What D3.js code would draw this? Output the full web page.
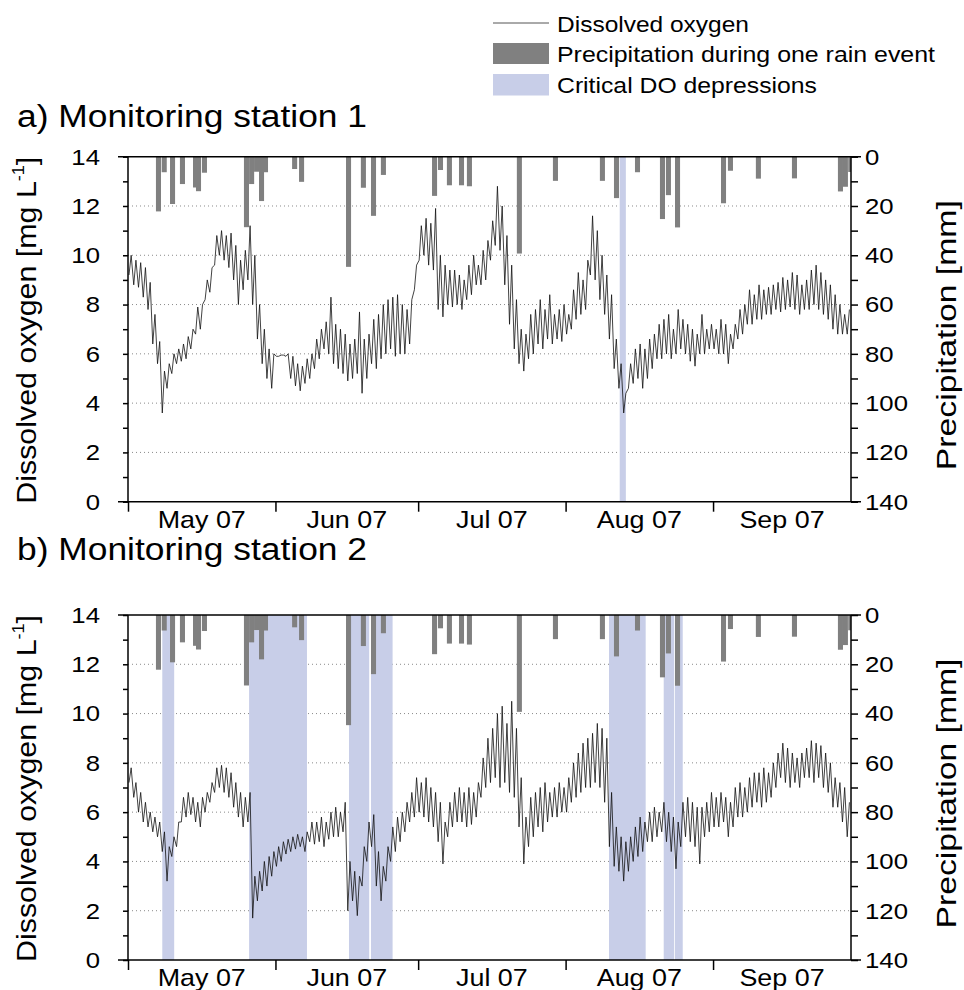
<!DOCTYPE html>
<html>
<head>
<meta charset="utf-8">
<script src="https://cdn.jsdelivr.net/npm/d3@7"></script>
<style>
  body { margin: 0; background: #fff; }
  svg { display: block; font-family: "Liberation Sans", Arial, sans-serif; }
</style>
</head>
<body>
<svg width="964" height="990"></svg>
<script>
// ---- data (day 0 = 1 May 2007, one high/low pair per day) ----
const startDate = "2007-05-01";
const endDate = "2007-09-30";

const doHigh1 = [
  10.0, 9.8, 9.7, 9.5, 8.9, 7.6, 6.5, 5.3, 5.6, 6.0,
  6.2, 6.4, 6.7, 7.0, 7.9, 8.0, 9.0, 9.5, 10.8, 11.0,
  10.8, 10.9, 10.4, 9.8, 10.2, 11.2, 10.0, 8.0, 7.0, 6.2,
  6.0, 5.9, 5.95, 6.0, 5.9, 5.6, 5.5, 5.8, 6.0, 6.6,
  7.0, 7.3, 8.3, 7.2, 7.0, 6.8, 6.4, 6.6, 7.7, 6.6,
  6.8, 7.4, 7.6, 8.0, 8.2, 8.3, 8.4, 8.0, 7.8, 8.2,
  9.6, 11.2, 11.5, 11.3, 11.9, 10.0, 9.6, 9.4, 9.4, 9.2,
  9.0, 9.6, 10.0, 9.6, 10.2, 10.6, 11.4, 12.8, 12.0, 10.8,
  9.6, 8.2, 7.0, 6.8, 7.6, 7.8, 8.2, 7.8, 8.4, 7.6,
  7.8, 8.0, 7.6, 8.6, 9.3, 9.0, 9.8, 11.6, 11.0, 10.0,
  9.2, 8.4, 6.6, 5.6, 4.4, 5.6, 6.2, 6.4, 6.2, 6.6,
  6.8, 7.2, 7.4, 7.6, 7.0, 7.8, 7.4, 7.2, 7.0, 6.8,
  7.6, 7.0, 7.2, 7.0, 7.4, 7.2, 6.8, 7.2, 7.8, 8.0,
  8.6, 8.4, 8.8, 8.6, 8.7, 8.8, 8.9, 9.1, 9.0, 9.3,
  9.2, 8.8, 9.0, 9.4, 9.6, 9.3, 9.0, 8.8, 8.4, 8.0,
  7.6, 7.8
];
const doLow1 = [
  9.2, 8.8, 8.7, 8.3, 7.8, 6.4, 5.6, 3.6, 4.6, 5.2,
  5.6, 5.7, 5.8, 6.2, 6.8, 7.0, 8.2, 8.5, 9.6, 10.0,
  9.8, 9.5, 9.0, 8.0, 8.6, 9.0, 8.0, 6.6, 5.6, 5.0,
  4.6, 5.9, 5.95, 5.9, 5.0, 4.7, 4.5, 4.8, 5.0, 5.4,
  5.8, 6.2, 6.0, 5.6, 5.4, 5.2, 4.9, 5.0, 5.2, 4.4,
  5.0, 5.6, 5.4, 5.8, 6.0, 6.2, 5.9, 6.0, 6.0, 6.4,
  8.6, 9.8, 10.0, 9.6, 9.4, 7.8, 7.5, 8.0, 7.9, 8.0,
  7.8, 8.2, 8.4, 8.8, 8.8, 9.0, 9.8, 10.4, 10.2, 8.8,
  7.2, 6.2, 5.6, 5.3, 5.8, 6.0, 6.4, 6.2, 6.6, 6.4,
  6.6, 6.5, 6.8, 7.0, 7.4, 7.6, 7.8, 9.2, 9.0, 8.2,
  7.6, 6.6, 5.4, 4.6, 3.6, 4.6, 4.8, 5.0, 4.6, 5.0,
  5.4, 5.8, 5.8, 6.0, 5.8, 6.0, 6.2, 6.0, 5.7, 5.5,
  6.0, 6.0, 6.2, 6.2, 6.0, 6.0, 5.6, 6.2, 6.6, 6.8,
  7.2, 7.2, 7.4, 7.4, 7.6, 7.6, 7.8, 7.7, 7.8, 7.9,
  7.8, 7.6, 7.8, 7.8, 8.0, 7.8, 7.6, 7.4, 7.0, 6.8,
  6.8, 6.8
];
const doHigh2 = [
  7.8, 7.2, 6.8, 6.4, 6.0, 5.8, 5.6, 5.2, 4.6, 5.0,
  5.6, 6.6, 6.8, 6.6, 6.4, 6.6, 6.8, 7.2, 7.8, 7.9,
  7.8, 7.6, 7.2, 6.8, 6.6, 6.8, 3.4, 3.6, 4.0, 4.2,
  4.4, 4.6, 4.8, 4.9, 5.0, 5.1, 5.0, 5.2, 5.6, 5.6,
  5.8, 5.6, 6.0, 6.2, 6.0, 6.4, 4.0, 3.6, 3.4, 4.6,
  5.6, 5.9, 4.4, 3.8, 4.6, 5.4, 5.8, 6.0, 6.4, 6.8,
  7.4, 7.2, 7.4, 7.0, 6.8, 6.4, 5.6, 6.4, 6.8, 7.0,
  6.8, 7.0, 6.8, 7.2, 8.2, 9.0, 9.4, 10.0, 10.3, 9.6,
  10.5, 9.4, 7.4, 5.8, 6.6, 6.8, 7.0, 7.2, 6.8, 7.0,
  7.2, 7.0, 7.4, 8.0, 8.4, 8.8, 9.0, 9.2, 9.6, 9.4,
  9.0, 6.8, 5.4, 5.0, 4.8, 5.0, 5.4, 5.8, 5.6, 6.0,
  6.2, 6.0, 6.4, 6.0, 5.8, 5.6, 6.4, 6.6, 6.4, 6.2,
  6.2, 6.4, 6.8, 6.6, 6.8, 6.6, 6.4, 7.0, 7.2, 7.0,
  7.4, 7.6, 7.6, 7.8, 7.6, 8.0, 8.4, 8.8, 8.6, 8.4,
  8.2, 8.4, 8.6, 8.9, 8.8, 8.7, 8.4, 8.0, 7.4, 7.2,
  7.0, 6.4
];
const doLow2 = [
  7.2, 6.6, 6.0, 5.6, 5.4, 5.2, 5.0, 4.4, 3.2, 4.2,
  4.6, 5.6, 5.8, 5.9, 5.6, 5.4, 6.0, 6.4, 6.8, 7.0,
  6.8, 6.6, 6.2, 5.8, 5.4, 5.6, 1.7, 2.4, 2.8, 3.0,
  3.4, 3.8, 4.0, 4.3, 4.4, 4.5, 4.6, 4.4, 4.8, 4.7,
  4.8, 4.6, 4.9, 5.0, 5.0, 5.2, 2.0, 2.4, 1.8, 3.0,
  4.0, 4.6, 3.0, 2.4, 3.2, 4.0, 4.4, 4.8, 5.2, 5.6,
  5.8, 6.0, 5.8, 5.6, 5.4, 4.8, 3.9, 5.0, 5.4, 5.6,
  5.6, 5.4, 5.5, 5.8, 6.6, 7.0, 7.2, 7.4, 7.0, 7.2,
  6.8, 6.6, 5.4, 3.9, 4.6, 5.0, 5.4, 5.2, 5.6, 5.8,
  5.8, 6.0, 6.0, 6.4, 6.6, 6.8, 7.0, 7.0, 7.2, 7.0,
  6.4, 4.6, 3.8, 3.6, 3.2, 3.6, 4.0, 4.2, 4.4, 4.8,
  4.8, 5.0, 5.2, 4.8, 4.4, 3.7, 4.6, 5.0, 4.8, 4.6,
  3.9, 5.0, 5.2, 5.4, 5.4, 5.6, 5.0, 5.4, 5.8, 5.8,
  6.0, 6.2, 6.4, 6.2, 6.4, 6.6, 7.0, 7.4, 7.2, 7.0,
  7.2, 7.0, 7.4, 7.4, 7.2, 7.4, 7.0, 6.8, 6.2, 6.2,
  5.6, 5.0
];

// rain events (same gauge for both stations)
const rainDates = [
  "2007-05-06 21:00", "2007-05-08 02:00", "2007-05-09 20:00", "2007-05-11 22:00",
  "2007-05-14 16:00", "2007-05-15 07:00", "2007-05-16 13:00", "2007-05-25 09:00",
  "2007-05-26 11:00", "2007-05-27 12:00", "2007-05-28 13:00", "2007-05-29 09:00",
  "2007-06-04 12:00", "2007-06-05 23:00", "2007-06-15 20:00", "2007-06-18 23:00",
  "2007-06-21 02:00", "2007-06-23 04:00", "2007-07-03 22:00", "2007-07-05 04:00",
  "2007-07-07 01:00", "2007-07-09 14:00", "2007-07-11 06:00", "2007-07-21 18:00",
  "2007-07-29 08:00", "2007-08-08 05:00", "2007-08-11 04:00", "2007-08-15 14:00",
  "2007-08-20 20:00", "2007-08-22 02:00", "2007-08-24 00:00", "2007-09-02 16:00",
  "2007-09-04 03:00", "2007-09-10 00:00", "2007-09-17 14:00", "2007-09-27 06:00",
  "2007-09-28 07:00", "2007-09-29 10:00"
];
const rainMm = [
  22.2, 6.3, 19.2, 11.1, 12.5, 14.0, 6.5, 28.6,
  11.1, 6.1, 18.0, 6.3, 5.0, 10.2, 44.7, 12.6,
  24.0, 7.4, 15.9, 5.4, 11.6, 11.6, 12.0, 39.3,
  9.8, 9.8, 16.8, 6.3, 25.3, 15.6, 28.7, 18.9,
  5.7, 8.9, 8.8, 14.1, 12.2, 6.2
];

// critical DO depressions [start, end]
const depressions1 = [
  ["2007-08-12 09:00", "2007-08-13 16:00"]
];
const depressions2 = [
  ["2007-05-08 05:00", "2007-05-10 17:00"],
  ["2007-05-26 11:00", "2007-06-07 15:00"],
  ["2007-06-16 11:00", "2007-06-20 17:00"],
  ["2007-06-21 02:00", "2007-06-25 15:00"],
  ["2007-08-10 03:00", "2007-08-17 20:00"],
  ["2007-08-21 15:00", "2007-08-23 20:00"],
  ["2007-08-24 00:00", "2007-08-25 15:00"]
];

const monthLabels = ["May 07", "Jun 07", "Jul 07", "Aug 07", "Sep 07"];
const doTicks = d3.range(0, 15, 1);
const precipTicks = d3.range(0, 150, 10);

// ---- layout ----
const plotLeft = 128, plotRight = 851;
const panels = [
  { top: 156.7, bottom: 501.7, title: "a) Monitoring station 1", titleY: 127,
    high: doHigh1, low: doLow1, shades: depressions1 },
  { top: 615, bottom: 960, title: "b) Monitoring station 2", titleY: 560,
    high: doHigh2, low: doLow2, shades: depressions2 }
];
const stretch = 1.12;   // glyphs in the figure are a bit wider than Arial

const parseDay = d3.utcParse("%Y-%m-%d");
const parseTime = d3.utcParse("%Y-%m-%d %H:%M");
const t0 = parseDay(startDate), t1 = parseDay(endDate);

const svg = d3.select("svg");

const x = d3.scaleUtc().domain([t0, t1]).range([plotLeft, plotRight]);

const rain = rainDates.map((d, i) => ({ t: parseTime(d), mm: rainMm[i] }));
const months = d3.utcMonth.range(t0, d3.utcMonth.offset(t0, 5));

function hText(sel, px, py, size, anchor, str) {
  return sel.append("text")
    .attr("transform", `translate(${px},${py}) scale(${stretch},1)`)
    .attr("font-size", size)
    .attr("text-anchor", anchor)
    .attr("fill", "#000")
    .text(str);
}

// ======= LEGEND =======
const legend = svg.append("g");
legend.append("line")
  .attr("x1", 493).attr("x2", 549).attr("y1", 23).attr("y2", 23)
  .attr("stroke", "#555").attr("stroke-width", 1);
legend.append("rect")
  .attr("x", 493).attr("y", 43).attr("width", 56).attr("height", 21)
  .attr("fill", "#808080");
legend.append("rect")
  .attr("x", 493).attr("y", 74).attr("width", 56).attr("height", 21.5)
  .attr("fill", "#c8cee8");
[["Dissolved oxygen", 31.7, 192], ["Precipitation during one rain event", 62.3, 378],
 ["Critical DO depressions", 93.3, 260]].forEach(([s, yy, len]) => {
  legend.append("text")
    .attr("x", 557).attr("y", yy)
    .attr("font-size", 22)
    .attr("textLength", len).attr("lengthAdjust", "spacingAndGlyphs")
    .text(s);
});

// ======= PANELS =======
panels.forEach((p, pi) => {
  const g = svg.append("g");

  const y = d3.scaleLinear().domain([0, 14]).range([p.bottom, p.top]);
  const yP = d3.scaleLinear().domain([0, 140]).range([p.top, p.bottom]);

  const clipId = "clip" + pi;
  g.append("clipPath").attr("id", clipId)
    .append("rect")
    .attr("x", plotLeft).attr("y", p.top)
    .attr("width", plotRight - plotLeft).attr("height", p.bottom - p.top);

  // title
  g.append("text")
    .attr("x", 17).attr("y", p.titleY)
    .attr("font-size", 31)
    .attr("textLength", 350).attr("lengthAdjust", "spacingAndGlyphs")
    .text(p.title);

  // dotted grid
  g.append("g").selectAll("line")
    .data(d3.range(2, 14, 2))
    .enter().append("line")
    .attr("x1", plotLeft).attr("x2", plotRight)
    .attr("y1", d => y(d)).attr("y2", d => y(d))
    .attr("stroke", "#8a8a8a").attr("stroke-width", 1)
    .attr("stroke-dasharray", "1,3");

  // critical DO depressions
  g.append("g").selectAll("rect")
    .data(p.shades)
    .enter().append("rect")
    .attr("x", d => x(parseTime(d[0])))
    .attr("width", d => x(parseTime(d[1])) - x(parseTime(d[0])))
    .attr("y", p.top).attr("height", p.bottom - p.top)
    .attr("fill", "#c8cee8");

  // precipitation bars hanging from the top
  const dayW = x(d3.utcDay.offset(t0, 1)) - x(t0);
  g.append("g").attr("clip-path", `url(#${clipId})`)
    .selectAll("rect")
    .data(rain)
    .enter().append("rect")
    .attr("x", d => x(d.t))
    .attr("width", dayW + 0.3)
    .attr("y", p.top)
    .attr("height", d => yP(d.mm) - p.top)
    .attr("fill", "#808080");

  // dissolved oxygen: one low (early morning) and one high (afternoon) per day
  const series = [];
  p.high.forEach((hi, i) => {
    series.push({ t: d3.utcHour.offset(t0, i * 24 + 5), v: p.low[i] });
    series.push({ t: d3.utcHour.offset(t0, i * 24 + 16), v: hi });
  });
  g.append("path")
    .datum(series)
    .attr("clip-path", `url(#${clipId})`)
    .attr("d", d3.line().x(d => x(d.t)).y(d => y(d.v)))
    .attr("fill", "none")
    .attr("stroke", "#111")
    .attr("stroke-width", 0.8)
    .attr("stroke-linejoin", "round");

  // left axis
  const left = g.append("g")
    .attr("transform", `translate(${plotLeft},0)`)
    .call(d3.axisLeft(y).tickValues(doTicks).tickSize(5).tickSizeOuter(0)
      .tickFormat(d => d % 2 ? "" : d));
  left.select(".domain").remove();
  left.selectAll("line").attr("stroke-width", 1.5);
  left.selectAll("text")
    .attr("x", null)
    .attr("transform", `translate(-28,0) scale(${stretch},1)`)
    .attr("font-size", 23)
    .attr("font-family", null)
    .attr("fill", "#000");

  // right axis
  const right = g.append("g")
    .attr("transform", `translate(${plotRight},0)`)
    .call(d3.axisRight(yP).tickValues(precipTicks).tickSize(7).tickSizeOuter(0)
      .tickFormat(d => d % 20 ? "" : d));
  right.select(".domain").remove();
  right.selectAll("line").attr("stroke-width", 1.5);
  right.selectAll("text")
    .attr("x", null)
    .attr("transform", `translate(14,0) scale(${stretch},1)`)
    .attr("font-size", 23)
    .attr("font-family", null)
    .attr("fill", "#000");

  // bottom axis: month boundaries
  const bottom = g.append("g")
    .attr("transform", `translate(0,${p.bottom})`)
    .call(d3.axisBottom(x).tickValues(months).tickSize(10).tickSizeOuter(0).tickFormat(""));
  bottom.select(".domain").remove();
  bottom.selectAll("line").attr("stroke-width", 1.5);

  months.forEach((m, i) => {
    const mEnd = d3.min([d3.utcMonth.offset(m, 1), t1]);
    hText(g, (x(m) + x(mEnd)) / 2, p.bottom + 26, 24, "middle", monthLabels[i]);
  });

  // frame
  const frame = g.append("g").attr("stroke", "#000").attr("stroke-width", 1.5);
  frame.append("line").attr("x1", plotLeft - 10).attr("x2", plotRight + 10)
    .attr("y1", p.top).attr("y2", p.top);
  frame.append("line").attr("x1", plotLeft - 10).attr("x2", plotRight + 10)
    .attr("y1", p.bottom).attr("y2", p.bottom);
  frame.append("line").attr("x1", plotLeft).attr("x2", plotLeft)
    .attr("y1", p.top).attr("y2", p.bottom);
  frame.append("line").attr("x1", plotRight).attr("x2", plotRight)
    .attr("y1", p.top).attr("y2", p.bottom);

  // axis titles
  const mid = (p.top + p.bottom) / 2;
  const lt = g.append("text")
    .attr("transform", `translate(36,${mid + 1}) rotate(-90)`)
    .attr("text-anchor", "middle")
    .attr("font-size", 27)
    .attr("textLength", 347).attr("lengthAdjust", "spacingAndGlyphs");
  lt.append("tspan").text("Dissolved oxygen [mg L");
  lt.append("tspan").attr("font-size", 16).attr("dy", -12).text("-1");
  lt.append("tspan").attr("dy", 12).text("]");

  g.append("text")
    .attr("transform", `translate(956,${mid + 6}) rotate(-90)`)
    .attr("text-anchor", "middle")
    .attr("font-size", 27)
    .attr("textLength", 270).attr("lengthAdjust", "spacingAndGlyphs")
    .text("Precipitation [mm]");
});
</script>
</body>
</html>
